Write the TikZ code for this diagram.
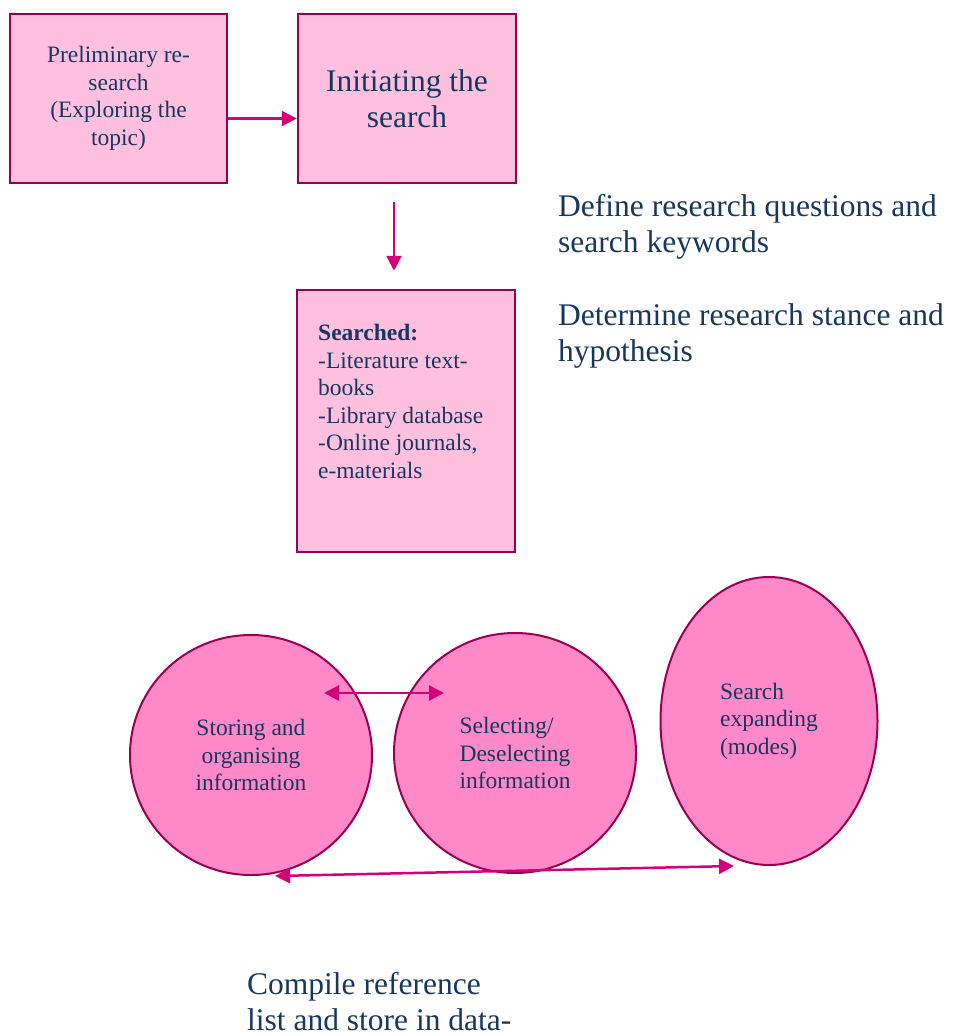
\documentclass[tikz,border=0pt]{standalone}
\usepackage{fontspec}
\setmainfont{Liberation Serif}
\usetikzlibrary{arrows.meta,positioning,shapes.geometric,calc}
\definecolor{boxfill}{HTML}{FFC0E0}
\definecolor{boxline}{HTML}{9A0052}
\definecolor{arrcol}{HTML}{D4007A}
\definecolor{ovalfill}{HTML}{FF88C8}
\definecolor{txtcol}{HTML}{17375E}
\newcommand{\fsmall}{\fontsize{23.5}{27.5}\selectfont}
\newcommand{\fbig}{\fontsize{31.5}{36.5}\selectfont}

\begin{document}
\begin{tikzpicture}[x=1pt,y=1pt,
  box/.style={rectangle,draw=boxline,fill=boxfill,line width=2.5pt,text=txtcol,align=center},
  oval/.style={ellipse,draw=boxline,fill=ovalfill,line width=2pt,text=txtcol,inner sep=0pt},
  lbl/.style={inner sep=0pt,anchor=north west,align=left,text=txtcol,font=\fbig},
  arr/.style={-{Triangle[length=15pt,width=15pt]},draw=arrcol,line width=2.5pt},
  dbl/.style={{Triangle[length=15pt,width=15pt]}-{Triangle[length=15pt,width=15pt]},draw=arrcol,line width=2.5pt}]
\useasboundingbox (0,0) rectangle (953,-1035);
% \draw[help lines] (0,0) grid (953,-1035);
\node (pre) [box,minimum width=217pt,minimum height=169pt,font=\fsmall] at (118.5,-98.5) {Preliminary re-\\search\\(Exploring the\\topic)};
\node (init) [box,minimum width=218pt,minimum height=169pt,font=\fbig] at (407,-98.5) {Initiating the\\search};
\node (searched) [box,minimum width=218pt,minimum height=262pt] at (406,-421) {};
\node (searchedtext) [inner sep=0pt,anchor=north west,align=left,text=txtcol,font=\fsmall] at (318,-324) {\textbf{Searched:}\\-Literature text-\\books\\-Library database\\-Online journals,\\e-materials};
%
\node (defq) [lbl] at (558,-194) {Define research questions and\\search keywords};
\node (stance) [lbl] at (558,-303) {Determine research stance and\\hypothesis};
\node (compile) [lbl] at (247,-972) {Compile reference\\list and store in data-};
%
\node (stor) [oval,minimum width=242pt,minimum height=240pt,align=center,font=\fsmall] at (251,-755) {Storing and\\organising\\information};
\node (sel) [oval,minimum width=242pt,minimum height=240pt,align=left,font=\fsmall] at (515,-753) {Selecting/\\Deselecting\\information};
\node (expand) [oval,minimum width=217pt,minimum height=288pt,align=left,font=\fsmall] at (769,-721) {Search\\expanding\\(modes)};
%
\draw[arr] ([yshift=-20pt]pre.east) -- ([yshift=-20pt]init.west);
\draw[arr,shorten <=18pt,shorten >=18pt] ([xshift=-13pt]init.south) -- ([xshift=-12pt]searched.north);
\draw[dbl] ($(stor.center)+(73,62)$) -- ($(sel.center)+(-71,60)$);
\draw[dbl] ([xshift=24pt]stor.south) -- ([xshift=-35pt]expand.south);
\end{tikzpicture}
\end{document}
